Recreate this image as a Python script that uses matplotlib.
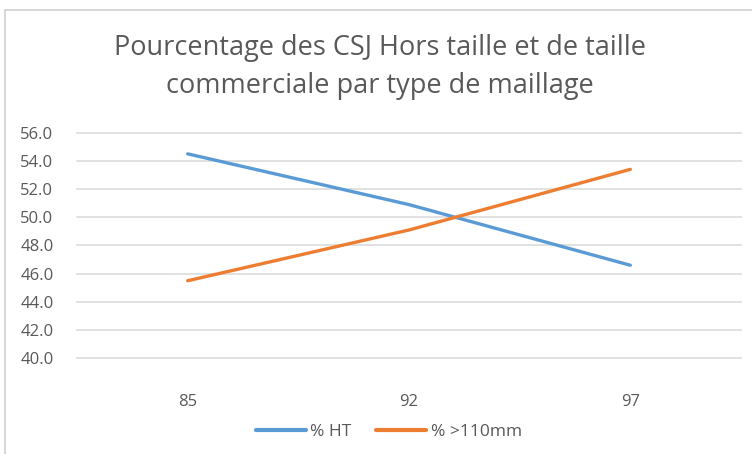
import matplotlib.pyplot as plt
from matplotlib.patches import Rectangle

# data
categories = ["85", "92", "97"]
pct_ht = [54.5, 50.9, 46.6]
pct_110 = [45.5, 49.1, 53.4]
yticks = [40, 42, 44, 46, 48, 50, 52, 54, 56]

BLUE = "#5B9BD5"
ORANGE = "#ED7D31"
GREY_TXT = "#595959"
GRID = "#D9D9D9"

plt.rcParams["font.family"] = ["Open Sans", "DejaVu Sans"]

W, H = 752, 454
fig = plt.figure(figsize=(W / 100, H / 100), dpi=100)

# chart-area border (light grey), runs off the right/bottom edges
fig.patches.append(Rectangle((5 / W, -0.1), 1.2, (H - 10) / H + 0.1,
                             transform=fig.transFigure, fill=False,
                             edgecolor="#D0D0D0", lw=1.2))

ax = fig.add_axes([77 / W, (H - 358.3) / H, (741 - 77) / W, (358.3 - 132.7) / H])

x = range(len(categories))
ax.plot(x, pct_ht, color=BLUE, lw=2.4, solid_capstyle="round", label="% HT", zorder=3)
ax.plot(x, pct_110, color=ORANGE, lw=2.4, solid_capstyle="round", label="% >110mm", zorder=3)

ax.set_xlim(-0.5, len(categories) - 0.5)
ax.set_ylim(40, 56)
ax.set_yticks(yticks)
ax.set_yticklabels([f"{v:.1f}" for v in yticks])
ax.set_xticks(list(x))
ax.set_xticklabels(categories)

ax.grid(axis="y", color=GRID, lw=1.1)
for gl in ax.get_ygridlines():
    gl.set_clip_on(False)
ax.set_axisbelow(True)
for s in ax.spines.values():
    s.set_visible(False)
ax.tick_params(axis="both", length=0, colors=GREY_TXT, labelsize=12)
ax.tick_params(axis="y", pad=17)
ax.tick_params(axis="x", pad=26)

fig.text(0.505, (H - 48) / H, "Pourcentage des CSJ Hors taille et de taille",
         ha="center", va="center", fontsize=19.5, color=GREY_TXT)
fig.text(0.505, (H - 86) / H, "commerciale par type de maillage",
         ha="center", va="center", fontsize=19.5, color=GREY_TXT)

leg = fig.legend(loc="center", bbox_to_anchor=(0.517, (H - 432) / H), ncol=2,
                 frameon=False, fontsize=12.5, labelcolor=GREY_TXT,
                 handlelength=2.9, handletextpad=0.25, columnspacing=1.4)
for line in leg.get_lines():
    line.set_linewidth(3)

fig.savefig("out.png", dpi=100)
